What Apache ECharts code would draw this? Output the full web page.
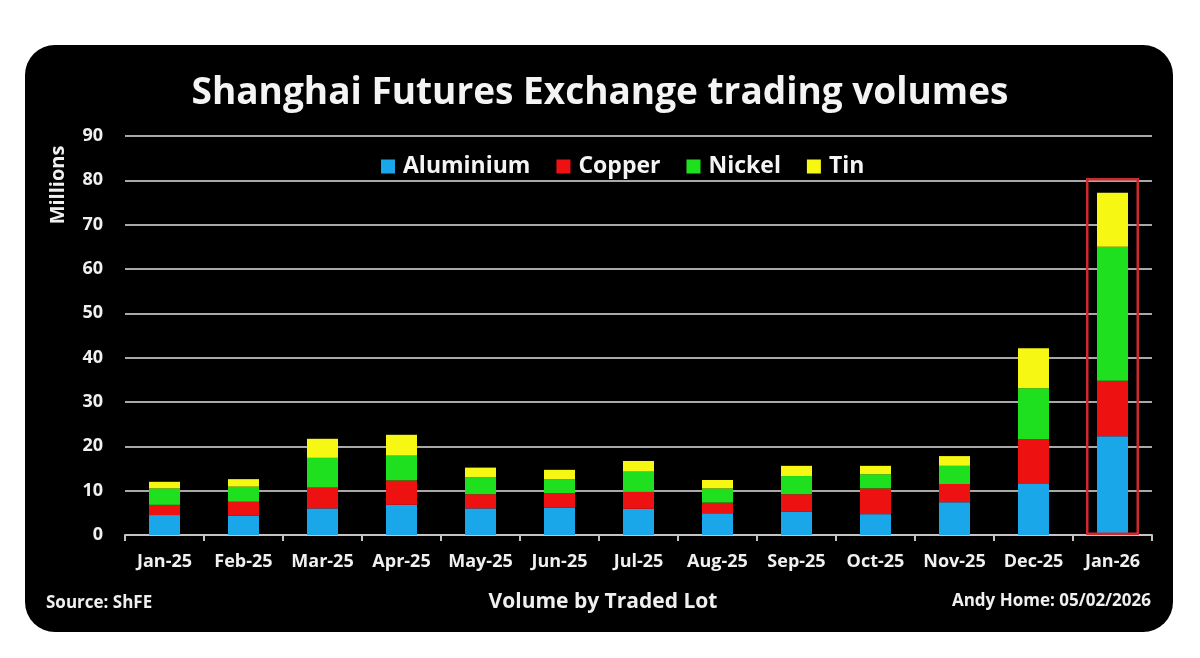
<!DOCTYPE html>
<html>
<head>
<meta charset="utf-8">
<script src="https://cdn.jsdelivr.net/npm/echarts@6/dist/echarts.min.js"></script>
<style>
html,body{margin:0;padding:0;background:#fff;width:1200px;height:658px;overflow:hidden;}
#card{position:absolute;left:25px;top:45px;width:1148px;height:587px;background:#000;border-radius:30px;}
#chart{position:absolute;left:0;top:0;width:1200px;height:658px;}
</style>
</head>
<body>
<div id="card"></div>
<div id="chart"></div>
<script>
const categories = ['Jan-25','Feb-25','Mar-25','Apr-25','May-25','Jun-25','Jul-25','Aug-25','Sep-25','Oct-25','Nov-25','Dec-25','Jan-26'];
const aluminium = [4.5, 4.4, 6.0, 6.8, 6.0, 6.2, 5.9, 4.9, 5.3, 4.7, 7.4, 11.5, 22.3];
const copper    = [2.3, 3.1, 4.7, 5.5, 3.2, 3.2, 3.9, 2.4, 3.9, 5.8, 4.1, 10.1, 12.5];
const nickel    = [3.7, 3.4, 6.7, 5.6, 3.8, 3.2, 4.5, 3.2, 4.1, 3.2, 4.1, 11.5, 30.2];
const tin       = [1.5, 1.7, 4.3, 4.7, 2.2, 2.1, 2.4, 1.9, 2.3, 1.9, 2.2, 9.0, 12.2];
const highlightBox = [null, null, null, null, null, null, null, null, null, null, null, null, 80.5];
const yTicks = {min: 0, max: 90, interval: 10};

const FONT = 'Open Sans';
const chart = echarts.init(document.getElementById('chart'), null, {renderer: 'canvas'});

function barSeries(name, data, color) {
  return {
    name: name, type: 'bar', stack: 'total', data: data, barWidth: 31,
    itemStyle: {color: color}, emphasis: {disabled: true}
  };
}

chart.setOption({
  backgroundColor: 'transparent',
  animation: false,
  textStyle: {fontFamily: FONT},
  title: {
    text: 'Shanghai Futures Exchange trading volumes',
    left: 'center', top: 70,
    textStyle: {color: '#f4f4f4', fontSize: 37, fontWeight: 'bold', fontFamily: FONT}
  },
  legend: {
    data: ['Aluminium', 'Copper', 'Nickel', 'Tin'],
    left: 376, top: 150,
    icon: 'rect', itemWidth: 14, itemHeight: 14, itemGap: 26,
    textStyle: {color: '#f4f4f4', fontSize: 23, fontWeight: 'bold', fontFamily: FONT, padding: [0, 0, 0, 3]}
  },
  grid: {left: 125, right: 48, top: 136, bottom: 123, containLabel: false},
  xAxis: [{
    type: 'category', data: categories,
    axisLine: {lineStyle: {color: '#c4c4c4', width: 2}},
    axisTick: {show: true, length: 6, lineStyle: {color: '#c4c4c4', width: 2}},
    axisLabel: {color: '#f0f0f0', fontSize: 18, fontWeight: 'bold', fontFamily: FONT, margin: 18, interval: 0}
  }, {
    type: 'category', data: categories, show: false
  }],
  yAxis: {
    type: 'value', min: yTicks.min, max: yTicks.max, interval: yTicks.interval,
    axisLine: {show: false}, axisTick: {show: false},
    splitLine: {lineStyle: {color: '#a8a8a8', width: 2}},
    axisLabel: {color: '#f0f0f0', fontSize: 18, fontWeight: 'bold', fontFamily: FONT, margin: 22}
  },
  series: [
    barSeries('Aluminium', aluminium, '#1aa7ea'),
    barSeries('Copper', copper, '#ee1111'),
    barSeries('Nickel', nickel, '#1fe01f'),
    barSeries('Tin', tin, '#f7f714'),
    {
      name: 'highlight', type: 'bar', xAxisIndex: 1, data: highlightBox, barWidth: 53,
      silent: true, z: 5,
      itemStyle: {color: 'rgba(0,0,0,0)', borderColor: '#cc2a2e', borderWidth: 2.5}
    }
  ],
  graphic: [
    {type: 'text', x: 58, y: 185, rotation: Math.PI / 2,
     style: {text: 'Millions', fill: '#f0f0f0', font: 'bold 20px "' + FONT + '"', align: 'center', verticalAlign: 'middle'}},
    {type: 'text', x: 46, y: 603,
     style: {text: 'Source: ShFE', fill: '#f0f0f0', font: 'bold 17px "' + FONT + '"', align: 'left', verticalAlign: 'middle'}},
    {type: 'text', x: 603, y: 602,
     style: {text: 'Volume by Traded Lot', fill: '#f0f0f0', font: 'bold 21px "' + FONT + '"', align: 'center', verticalAlign: 'middle'}},
    {type: 'text', x: 1151, y: 601,
     style: {text: 'Andy Home: 05/02/2026', fill: '#f0f0f0', font: 'bold 17px "' + FONT + '"', align: 'right', verticalAlign: 'middle'}}
  ]
});
</script>
</body>
</html>
